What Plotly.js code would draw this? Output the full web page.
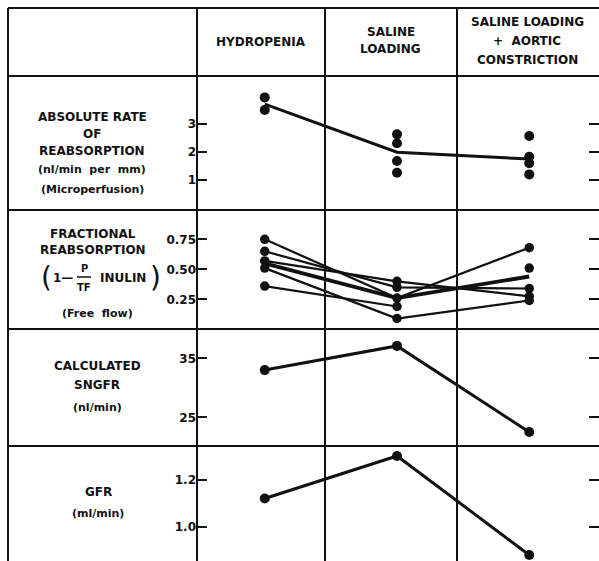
<!DOCTYPE html>
<html>
<head>
<meta charset="utf-8">
<script src="https://cdn.plot.ly/plotly-3.0.1.min.js"></script>
<style>html,body{margin:0;padding:0;background:#fff;}#chart{width:599px;height:561px;}</style>
</head>
<body>
<div id="chart"></div>
<script>
// ---- data ----
const conditions = ['HYDROPENIA', 'SALINE LOADING', 'SALINE LOADING + AORTIC CONSTRICTION'];
const conditionIndex = [0, 1, 2];

// Absolute rate of reabsorption (nl/min per mm), microperfusion – individual values
const absRateHydropenia = [3.95, 3.50];
const absRateSaline = [2.63, 2.31, 1.68, 1.26];
const absRateConstriction = [2.57, 1.83, 1.60, 1.20];
const absRateMean = [3.71, 1.99, 1.75];

// Fractional reabsorption (1 - P/TF inulin), free flow – individual animals
const fracA = [0.75, 0.26, 0.68];
const fracB = [0.65, 0.35, 0.34];
const fracC = [0.57, 0.40, 0.275];
const fracD = [0.51, 0.09, 0.24];
const fracE = [0.36, 0.19, null];
const fracF = [null, null, 0.51];
const fracMean = [0.55, 0.26, 0.44];

// Calculated SNGFR (nl/min)
const sngfr = [33.0, 37.1, 22.5];
// GFR (ml/min)
const gfr = [1.121, 1.303, 0.879];

// tick labels
const absTicks = [1, 2, 3], absTickText = ['1', '2', '3'];
const fracTicks = [0.25, 0.5, 0.75], fracTickText = ['0.25', '0.50', '0.75'];
const sngfrTicks = [25, 35], sngfrTickText = ['25', '35'];
const gfrTicks = [1.0, 1.2], gfrTickText = ['1.0', '1.2'];

// ---- layout helpers ----
const W = 599, H = 561;
const px = x => x / W;
const py = y => 1 - y / H;
const FONT = 'DejaVu Sans, Arial, sans-serif';
const INK = '#111';

function dots(groups, yax, size) {
  const x = [], y = [];
  groups.forEach((g, i) => g.forEach(v => { x.push(conditionIndex[i]); y.push(v); }));
  return {x, y, xaxis: 'x', yaxis: yax, mode: 'markers', type: 'scatter',
          marker: {color: INK, size: size}, hoverinfo: 'skip', showlegend: false};
}
function line(vals, yax, width, markers, msize) {
  return {x: conditionIndex, y: vals, xaxis: 'x', yaxis: yax, type: 'scatter',
          mode: markers ? 'lines+markers' : 'lines', connectgaps: false,
          line: {color: INK, width: width}, marker: {color: INK, size: msize || 10},
          hoverinfo: 'skip', showlegend: false};
}

const traces = [
  dots([absRateHydropenia, absRateSaline, absRateConstriction], 'y', 10),
  line(absRateMean, 'y', 3, false),
  line(fracA, 'y2', 2.2, true, 9.5),
  line(fracB, 'y2', 2.2, true, 9.5),
  line(fracC, 'y2', 2.2, true, 9.5),
  line(fracD, 'y2', 2.2, true, 9.5),
  line(fracE, 'y2', 2.2, true, 9.5),
  line(fracF, 'y2', 2.2, true, 9.5),
  line(fracMean, 'y2', 3.8, false),
  line(sngfr, 'y3', 3, true, 10),
  line(gfr, 'y4', 3, true, 10)
];

// x mapping: index 0 -> ~265px, 2 -> ~529px
const xSlope = 132.25, xOrigin = 264.75;
const xRange = [(197 - xOrigin) / xSlope, (599 - xOrigin) / xSlope];

function yAxis(top, bottom, range, tv, tt) {
  return {domain: [py(bottom), py(top)], range: range, anchor: 'x',
          tickmode: 'array', tickvals: tv, ticktext: tt,
          ticks: 'inside', ticklen: 10, tickwidth: 2, tickcolor: INK,
          mirror: 'ticks', showline: false, showgrid: false, zeroline: false,
          tickfont: {family: FONT, size: 12, color: INK, weight: 'bold'},
          fixedrange: true};
}

const tickFont = {family: FONT, size: 12, color: INK, weight: 'bold'};
function ann(text, x, y, size, extra) {
  return Object.assign({xref: 'paper', yref: 'paper', x: px(x), y: py(y), text: text,
          showarrow: false, xanchor: 'center', yanchor: 'middle',
          font: {family: FONT, size: size || 12, color: INK, weight: 'bold'}}, extra || {});
}

const annotations = [
  ann('HYDROPENIA', 261, 42),
  ann('SALINE', 391, 32), ann('LOADING', 391, 49),
  ann('SALINE LOADING', 527, 22), ann('+  AORTIC', 527, 41), ann('CONSTRICTION', 527, 60),

  ann('ABSOLUTE RATE', 92, 117), ann('OF', 92, 134), ann('REABSORPTION', 92, 151),
  ann('(nl/min  per  mm)', 92, 169, 11), ann('(Microperfusion)', 92, 190, 11),

  ann('FRACTIONAL', 93, 234), ann('REABSORPTION', 93, 250),
  ann('(', 46, 277, 28, {font: {family: FONT, size: 28, color: INK, weight: 'normal'}}),
  ann('1—', 63, 278, 12),
  ann('P', 84, 268, 10), ann('TF', 84, 287, 10),
  ann('INULIN', 123, 278, 12),
  ann(')', 155, 277, 28, {font: {family: FONT, size: 28, color: INK, weight: 'normal'}}),
  ann('(Free  flow)', 97, 313, 11),

  ann('CALCULATED', 97, 366), ann('SNGFR', 97, 385), ann('(nl/min)', 97, 407, 11),
  ann('GFR', 98, 492), ann('(ml/min)', 98, 513, 11)
];

const LW = 2;
function hl(y) { return {type: 'line', xref: 'paper', yref: 'paper', x0: px(8), x1: px(599), y0: py(y), y1: py(y), line: {color: INK, width: LW}}; }
function vl(x) { return {type: 'line', xref: 'paper', yref: 'paper', x0: px(x), x1: px(x), y0: py(8), y1: py(561), line: {color: INK, width: LW}}; }
const shapes = [hl(8), hl(76), hl(210), hl(329), hl(446), vl(8), vl(197), vl(325), vl(457),
  {type: 'line', xref: 'paper', yref: 'paper', x0: px(77), x1: px(91), y0: py(277), y1: py(277), line: {color: INK, width: 1.5}}];

const layout = {
  width: W, height: H, margin: {l: 0, r: 0, t: 0, b: 0},
  paper_bgcolor: '#fff', plot_bgcolor: 'rgba(0,0,0,0)',
  showlegend: false,
  xaxis: {domain: [px(197), 1], range: xRange, visible: false, fixedrange: true, anchor: 'y'},
  yaxis: yAxis(76, 210, [3 - (210 - 124) / 28, 3 + (124 - 76) / 28], absTicks, absTickText),
  yaxis2: yAxis(210, 329, [0.25 - (329 - 299.3) / 120, 0.75 + (239.3 - 210) / 120], fracTicks, fracTickText),
  yaxis3: yAxis(329, 446, [25 - (446 - 417.3) / 5.9, 35 + (358.3 - 329) / 5.9], sngfrTicks, sngfrTickText),
  yaxis4: yAxis(446, 561, [1.0 - (561 - 526.7) / 233.5, 1.2 + (480 - 446) / 233.5], gfrTicks, gfrTickText),
  annotations: annotations,
  shapes: shapes
};

Plotly.newPlot('chart', traces, layout, {staticPlot: true, displayModeBar: false});
</script>
</body>
</html>
